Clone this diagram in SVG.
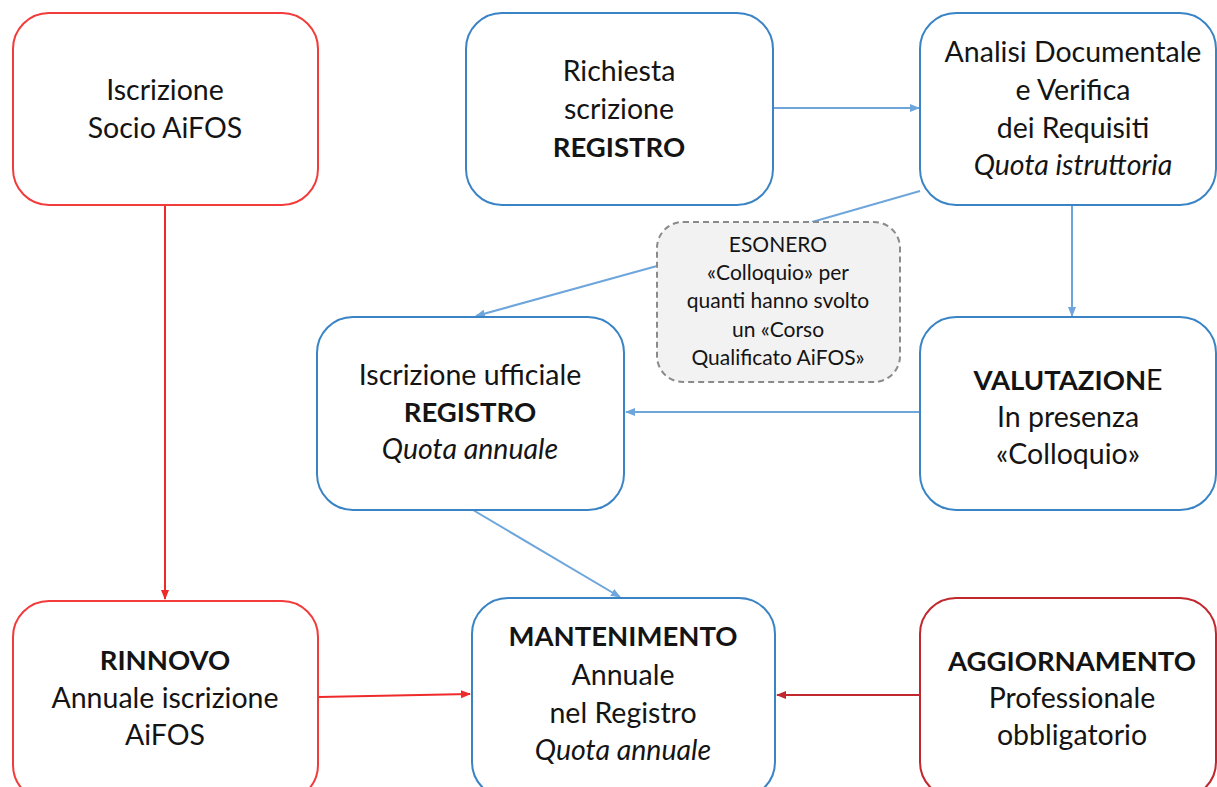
<svg xmlns="http://www.w3.org/2000/svg" width="1217" height="787" viewBox="0 0 1217 787">
<style>
.t{font-family:Lato,"Open Sans","Liberation Sans",sans-serif;font-size:28.5px;fill:#141414;text-anchor:middle}
.b{font-weight:bold;font-size:27.5px}
.i{font-style:italic}
.s{font-size:21px}
.nb{fill:#fff;stroke:#3a84c6;stroke-width:2}
.nr{fill:#fff;stroke:#f23b3b;stroke-width:2}
.nd{fill:#fff;stroke:#c0282d;stroke-width:2}
.ce{fill:#f2f2f2;stroke:#8a8a8a;stroke-width:2;stroke-dasharray:6 4}
.cb{fill:none;stroke:#6ea6dc;stroke-width:2}
.cr{fill:none;stroke:#ee2a2a;stroke-width:2}
.cd{fill:none;stroke:#c0282d;stroke-width:2}
</style>
<defs>
<marker id="ab" markerWidth="10" markerHeight="10" refX="9" refY="5" orient="auto" markerUnits="userSpaceOnUse"><path d="M0,1 L10,5 L0,9 Z" fill="#6ea6dc"/></marker>
<marker id="ar" markerWidth="10" markerHeight="10" refX="9" refY="5" orient="auto" markerUnits="userSpaceOnUse"><path d="M0,1 L10,5 L0,9 Z" fill="#ee2a2a"/></marker>
<marker id="ad" markerWidth="10" markerHeight="10" refX="9" refY="5" orient="auto" markerUnits="userSpaceOnUse"><path d="M0,1 L10,5 L0,9 Z" fill="#c0282d"/></marker>
</defs>
<rect width="1217" height="787" fill="#fff"/>
<g id="connectors">
<line class="cr" x1="165" y1="205" x2="165" y2="599" marker-end="url(#ar)"/>
<line class="cr" x1="319" y1="697" x2="470" y2="694" marker-end="url(#ar)"/>
<line class="cd" x1="920" y1="695" x2="777" y2="695" marker-end="url(#ad)"/>
<line class="cb" x1="773" y1="108" x2="919" y2="108" marker-end="url(#ab)"/>
<line class="cb" x1="1072" y1="205" x2="1072" y2="316" marker-end="url(#ab)"/>
<line class="cb" x1="920" y1="412" x2="626" y2="412" marker-end="url(#ab)"/>
<line class="cb" x1="920" y1="191" x2="812" y2="222"/>
<line class="cb" x1="657" y1="266" x2="476" y2="316" marker-end="url(#ab)"/>
<line class="cb" x1="473" y1="510" x2="620" y2="597" marker-end="url(#ab)"/>
</g>
<g id="n-iscrizione-socio">
<rect class="nr" x="13" y="13" width="305" height="192" rx="36"/>
<text class="t" x="165" y="100">Iscrizione</text>
<text class="t" x="165" y="138">Socio AiFOS</text>
</g>
<g id="n-richiesta">
<rect class="nb" x="466" y="13" width="307" height="192" rx="36"/>
<text class="t" x="619" y="81">Richiesta</text>
<text class="t" x="619" y="119">scrizione</text>
<text class="t b" x="619" y="157">REGISTRO</text>
</g>
<g id="n-analisi">
<rect class="nb" x="920" y="13" width="296" height="192" rx="36"/>
<text class="t" x="1073" y="62">Analisi Documentale</text>
<text class="t" x="1073" y="100">e Verifica</text>
<text class="t" x="1073" y="138">dei Requisiti</text>
<text class="t i" x="1073" y="175">Quota istruttoria</text>
</g>
<g id="n-esonero">
<rect class="ce" x="657" y="222" width="243" height="160" rx="26"/>
<text class="t s" x="778" y="252">ESONERO</text>
<text class="t s" x="778" y="280">«Colloquio» per</text>
<text class="t s" x="778" y="308">quanti hanno svolto</text>
<text class="t s" x="778" y="337">un «Corso</text>
<text class="t s" x="778" y="365">Qualificato AiFOS»</text>
</g>
<g id="n-iscrizione-ufficiale">
<rect class="nb" x="317" y="317" width="307" height="193" rx="36"/>
<text class="t" x="470" y="385">Iscrizione ufficiale</text>
<text class="t b" x="470" y="422">REGISTRO</text>
<text class="t i" x="470" y="459">Quota annuale</text>
</g>
<g id="n-valutazione">
<rect class="nb" x="920" y="317" width="296" height="193" rx="36"/>
<text class="t" x="1068" y="390"><tspan class="b">VALUTAZION</tspan>E</text>
<text class="t" x="1068" y="427">In presenza</text>
<text class="t" x="1068" y="464">«Colloquio»</text>
</g>
<g id="n-rinnovo">
<rect class="nr" x="13" y="601" width="305" height="200" rx="36"/>
<text class="t b" x="165" y="670">RINNOVO</text>
<text class="t" x="165" y="708">Annuale iscrizione</text>
<text class="t" x="165" y="745">AiFOS</text>
</g>
<g id="n-mantenimento">
<rect class="nb" x="472" y="598" width="303" height="200" rx="36"/>
<text class="t b" x="623" y="646">MANTENIMENTO</text>
<text class="t" x="623" y="685">Annuale</text>
<text class="t" x="623" y="723">nel Registro</text>
<text class="t i" x="623" y="760">Quota annuale</text>
</g>
<g id="n-aggiornamento">
<rect class="nd" x="920" y="598" width="296" height="200" rx="36"/>
<text class="t b" x="1072" y="671">AGGIORNAMENTO</text>
<text class="t" x="1072" y="708">Professionale</text>
<text class="t" x="1072" y="745">obbligatorio</text>
</g>
</svg>
